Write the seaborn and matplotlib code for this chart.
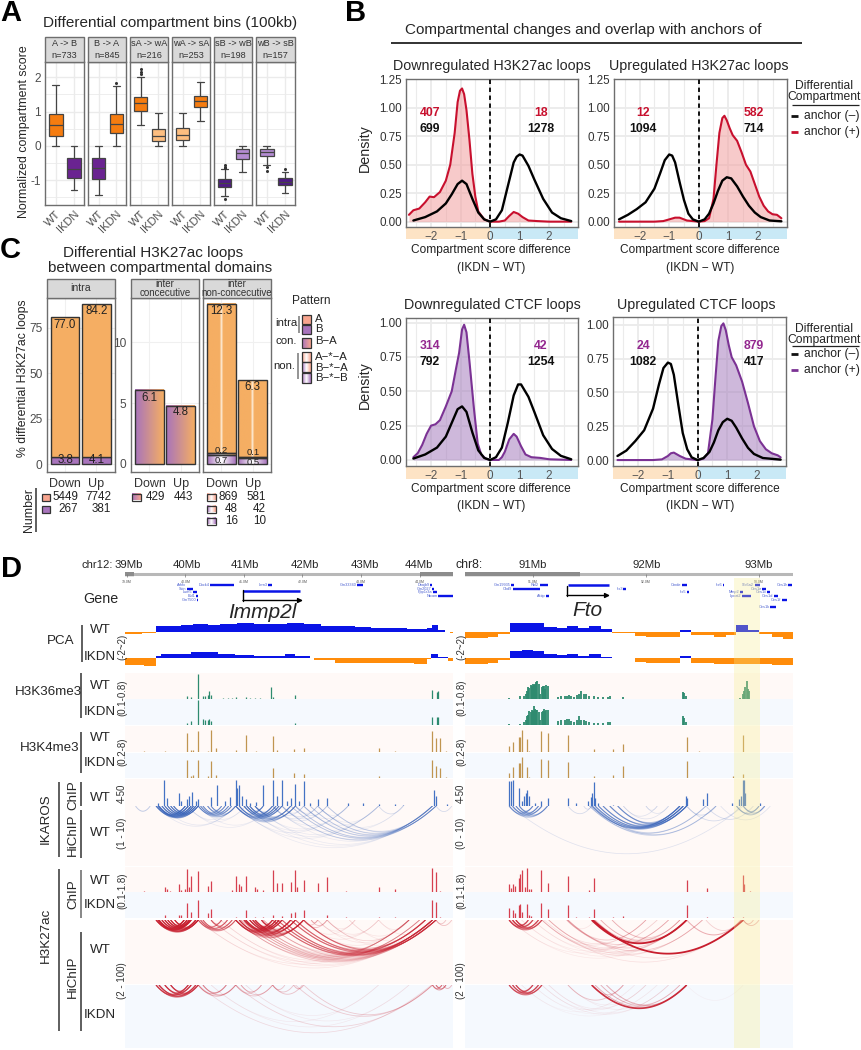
import numpy as np
import pandas as pd
import seaborn as sns
import matplotlib.pyplot as plt
from matplotlib.collections import LineCollection
from matplotlib.colors import LinearSegmentedColormap
from matplotlib.patches import Rectangle

# ---- panel A: box summaries (min, q1, median, q3, max)
box_titles = ["A -> B\nn=733", "B -> A\nn=845", "sA -> wA\nn=216", "wA -> sA\nn=253", "sB -> wB\nn=198", "wB -> sB\nn=157"]
genotypes = ["WT", "IKDN"]
box_wt = [[0, .30, .60, .92, 1.77], [-1.42, -.95, -.65, -.35, 0], [.60, 1.02, 1.24, 1.43, 2.0],
          [0, .16, .33, .52, .97], [-1.45, -1.20, -1.08, -.97, -.68], [-.55, -.28, -.18, -.08, 0]]
box_ikdn = [[-1.27, -.92, -.68, -.36, 0], [0, .38, .63, .92, 1.75], [0, .13, .28, .50, .97],
            [.73, 1.12, 1.32, 1.46, 1.86], [-.75, -.37, -.20, -.08, 0], [-1.37, -1.13, -1.05, -.94, -.75]]
fliers_wt = [[], [], [2.1, 2.15, 2.25], [], [-.55, -.6, -.65, -1.55], [-.62, -.72]]
fliers_ikdn = [[], [1.84], [], [], [], [-.66]]
box_cols_wt = ["#F57C10", "#6A2391", "#F57C10", "#FDBE80", "#4F1A85", "#B48CD2"]
box_cols_ikdn = ["#6A2391", "#F57C10", "#FDBE80", "#F57C10", "#B48CD2", "#4F1A85"]

# ---- panel B: density curves
d1_red_x = [-2.75, -2.6, -2.4, -2.2, -2.05, -1.9, -1.7, -1.5, -1.35, -1.2, -1.1, -1.02, -.95, -.88, -.8, -.7, -.6, -.5, -.4, -.2, 0, .3, .5, .65, .8, .95, 1.1, 1.3, 1.6, 2.0, 2.75]
d1_red_y = [.06, .10, .115, .17, .22, .215, .26, .36, .50, .78, 1.05, 1.15, 1.17, 1.12, .98, .72, .42, .22, .09, .02, 0, 0, .01, .05, .085, .07, .04, .01, .005, 0, 0]
d1_blk_x = [-2.6, -2.2, -1.8, -1.5, -1.3, -1.1, -.95, -.8, -.6, -.4, -.2, 0, .2, .4, .6, .8, .9, 1.0, 1.1, 1.3, 1.5, 1.8, 2.1, 2.4, 2.75]
d1_blk_y = [.01, .04, .09, .16, .24, .33, .36, .33, .20, .08, .02, 0, .02, .10, .31, .52, .57, .59, .58, .49, .37, .20, .08, .03, .005]
d2_red_x = [-2.7, -1.5, -1.2, -1.0, -.8, -.65, -.4, 0, .2, .35, .5, .6, .7, .8, .87, .95, 1.05, 1.15, 1.3, 1.45, 1.6, 1.75, 1.9, 2.05, 2.2, 2.35, 2.5, 2.65, 2.8]
d2_red_y = [0, 0, .005, .02, .035, .035, .01, 0, .005, .03, .20, .50, .78, .91, .93, .89, .82, .76, .71, .61, .50, .44, .33, .22, .14, .09, .065, .06, .03]
d2_blk_x = [-2.7, -2.4, -2.1, -1.8, -1.5, -1.3, -1.15, -1.0, -.9, -.8, -.65, -.5, -.35, -.2, 0, .2, .35, .5, .65, .8, .95, 1.1, 1.3, 1.5, 1.7, 1.9, 2.1, 2.4, 2.8]
d2_blk_y = [.02, .06, .11, .17, .29, .43, .54, .59, .58, .52, .35, .19, .07, .02, 0, .02, .07, .16, .27, .36, .39, .38, .31, .22, .14, .08, .04, .01, .003]
d3_pur_x = [-2.6, -2.45, -2.3, -2.15, -2.0, -1.85, -1.7, -1.5, -1.3, -1.15, -1.05, -.95, -.88, -.8, -.7, -.55, -.42, -.3, -.15, 0, .3, .4, .5, .65, .8, .9, 1.05, 1.2, 1.4, 1.7, 2.0, 2.75]
d3_pur_y = [.02, .05, .11, .19, .25, .26, .29, .39, .50, .67, .78, .95, .985, .93, .72, .38, .12, .04, .01, 0, 0, .02, .06, .15, .19, .17, .10, .04, .02, .015, .005, 0]
d3_blk_x = [-2.6, -2.2, -1.8, -1.5, -1.3, -1.1, -.95, -.8, -.6, -.4, -.2, 0, .2, .4, .6, .8, .95, 1.05, 1.3, 1.5, 1.8, 2.1, 2.4, 2.75]
d3_blk_y = [.01, .04, .09, .17, .27, .37, .39, .35, .20, .07, .015, 0, .02, .09, .27, .47, .55, .55, .46, .35, .18, .08, .03, .005]
d4_pur_x = [-2.7, -1.5, -1.2, -1.0, -.9, -.8, -.6, -.4, 0, .2, .35, .5, .6, .7, .8, .87, .95, 1.05, 1.15, 1.3, 1.5, 1.7, 1.9, 2.1, 2.3, 2.5, 2.7, 2.8]
d4_pur_y = [0, 0, .005, .03, .05, .055, .03, .01, 0, .01, .05, .30, .60, .88, .99, 1.01, .96, .85, .76, .70, .58, .42, .25, .14, .08, .05, .035, .02]
d4_blk_x = [-2.7, -2.4, -2.1, -1.8, -1.5, -1.3, -1.15, -1.0, -.9, -.8, -.65, -.5, -.35, -.2, 0, .2, .4, .55, .7, .85, 1.0, 1.15, 1.3, 1.5, 1.7, 1.9, 2.2, 2.8]
d4_blk_y = [.03, .07, .14, .22, .38, .56, .68, .72, .71, .63, .41, .20, .08, .02, 0, .015, .06, .13, .22, .28, .305, .29, .24, .16, .09, .045, .015, .003]

# ---- panel C: stacked percentages
bar_cats = ["Down", "Up"]
intra_b = [3.8, 4.1]
intra_a = [77.0, 84.2]
con_ba = [6.1, 4.8]
non_bb = [.7, .5]
non_ba = [.2, .1]
non_aa = [12.3, 6.3]
numbers_intra = [["5449", "7742"], ["267", "381"]]
numbers_con = [["429", "443"]]
numbers_non = [["869", "581"], ["48", "42"], ["16", "10"]]

# ---- panel D: compartment PCA (bin edges in Mb, score per bin)
pca_l_wt_e = [38.97, 39.26, 39.50, 39.70, 39.93, 40.13, 40.38, 40.60, 40.89, 41.18, 41.40, 41.74, 42.03, 42.32, 42.60, 42.89, 43.17, 43.55, 43.78, 44.12, 44.22, 44.32, 44.43, 44.52, 44.57]
pca_l_wt_v = [-.45, -.3, 1.3, 1.4, 1.5, 1.7, 1.6, 1.7, 1.9, 1.8, 1.7, 1.9, 1.7, 1.4, 1.3, 1.1, .9, .8, .7, .8, 1.5, .5, -.05, -.3, -.3]
pca_l_ko_e = [38.97, 39.3, 39.5, 39.59, 39.82, 40.10, 40.56, 40.85, 41.18, 41.70, 41.88, 42.13, 42.2, 42.55, 43.12, 43.9, 44.12, 44.2, 44.32, 44.49, 44.57]
pca_l_ko_v = [-1.5, -1.7, .5, .8, 1.0, 1.25, .85, .6, .45, .9, .5, -.05, -.5, -1.1, -1.2, -1.3, -.3, .9, .25, -.7, -.7]
pca_r_e = [90.40, 90.605, 90.69, 90.80, 90.90, 91.0, 91.10, 91.21, 91.30, 91.40, 91.50, 91.60, 91.70, 91.90, 92.0, 92.30, 92.40, 92.60, 92.705, 92.80, 92.90, 93.0, 93.11, 93.21, 93.30]
pca_r_wt_v = [-1.3, -1.0, -.4, 1.9, 2.1, 1.9, 1.2, .9, 1.3, .9, 1.3, .6, -.3, -.8, -1.0, .5, -.6, -1.0, -.6, 1.5, .4, -.5, -1.1, -1.6, -1.6]
pca_r_ko_v = [-1.3, -1.0, -.4, 1.6, 1.8, 1.6, 1.0, .7, .9, .5, .8, .3, -.1, -.8, -1.1, .35, -1.2, -1.4, -1.3, -1.3, -1.3, -1.3, -1.5, -1.6, -1.6]

# peak positions (Mb) and relative heights
k36_l_pos = [40.03, 40.10, 40.22, 40.31, 40.34, 40.38, 40.41, 40.43, 40.64, 40.73, 40.79, 40.87, 41.04, 41.10, 41.19, 41.27, 41.46, 41.50, 41.87, 44.22, 44.29, 44.32]
k36_l_wt = [.1, .07, 1.0, .1, .12, .15, .3, .15, .03, .03, .04, .06, .05, .03, .03, .03, .45, .05, .15, .35, .25, .3]
k36_l_ko = [.06, .15, 1.0, .25, .2, .2, .25, .15, 0, 0, 0, 0, 0, 0, 0, 0, 0, 0, .08, .3, .3, .3]
k36_r_pos = [90.79, 90.885, 90.92, 90.94, 90.95, 90.96, 90.97, 90.98, 90.99, 91.0, 91.01, 91.02, 91.03, 91.04, 91.05, 91.06, 91.08, 91.09, 91.10, 91.11, 91.12, 91.13,
             91.22, 91.25, 91.28, 91.30, 91.32, 91.34, 91.36, 91.39, 91.41, 91.43, 91.45, 91.47, 91.50, 91.54, 91.58, 91.62, 91.66, 91.68, 91.80, 92.33, 92.34, 92.35,
             92.83, 92.86, 92.87, 92.88, 92.89, 92.90, 92.91]
k36_r_wt = [.04, .1, .12, .2, .3, .45, .42, .55, .5, .6, .55, .58, .68, .72, .6, .2, .45, .5, .52, .4, .55, .5,
            .07, .1, .1, .12, .14, .12, .08, .15, .2, .3, .2, .18, .12, .1, .08, .06, .07, .12, .05, .28, .22, .1,
            .04, .2, .3, .45, .7, .4, .3]
k36_r_ko = [.02, .05, .1, .2, .35, .4, .55, .5, .6, .55, .75, .65, .6, .6, .5, .2, .5, .55, .65, .55, .6, .6,
            .15, .2, .18, .25, .22, .15, .1, .2, .35, .2, .18, .15, .1, .08, .07, .06, .1, .12, 0, .35, .28, .1,
            0, 0, 0, 0, 0, 0, 0]
k4_l_pos = [39.30, 39.65, 40.03, 40.10, 40.13, 40.22, 40.39, 40.44, 40.53, 40.87, 41.03, 41.21, 41.49, 41.57, 41.86, 42.02, 43.30, 43.58, 44.22, 44.28, 44.34, 44.45]
k4_l_wt = [.02, .03, .75, .08, .08, .85, .05, .88, .15, .07, .68, .03, .65, .07, .1, .15, .14, .05, .85, .55, .55, .03]
k4_l_ko = [0, 0, .75, .1, .12, .75, .1, .7, .12, 0, 0, 0, .42, 0, .2, .18, .08, 0, .75, .5, .4, .03]
k4_r_pos = [90.79, 90.825, 90.875, 90.89, 90.905, 90.95, 90.97, 91.07, 91.13, 91.31, 91.54, 91.71, 91.80, 92.36, 92.47, 92.77, 92.86]
k4_r_wt = [.22, .4, .6, .6, .88, .5, .05, .85, .75, .68, .1, .12, .3, .6, .02, 0, .68]
k4_r_ko = [.2, .45, .6, .6, .85, .45, .05, .8, .75, .65, .1, .12, .5, .7, 0, .1, .15]
ik_l_pos = [39.53, 39.63, 39.69, 39.89, 39.93, 40.03, 40.07, 40.11, 40.18, 40.22, 40.44, 40.54, 40.68, 40.77, 40.86, 40.89, 40.92, 40.96, 41.03, 41.10, 41.21, 41.33, 41.49, 41.57, 41.65, 41.74, 41.80, 41.88, 41.94, 42.02, 42.13, 42.26, 42.42, 42.78, 43.04, 43.30, 43.58, 43.72, 44.25, 44.28, 44.46]
ik_l_wt = [.1, 1.0, .3, .5, .2, .25, .4, .55, .2, .25, .35, .8, .2, .35, 1.0, .7, .8, .4, .25, .1, .15, .8, 1.0, .4, 1.0, .2, .3, .85, .2, .95, .1, .25, .3, .1, .1, .08, .08, .05, .6, .4, .08]
ik_r_pos = [90.79, 90.805, 90.82, 90.875, 90.90, 90.92, 90.94, 90.95, 90.97, 91.02, 91.07, 91.13, 91.31, 91.38, 91.49, 91.51, 91.52, 91.54, 91.55, 91.58, 91.71, 92.355, 92.36, 92.505, 92.54, 92.765, 92.82, 92.84, 92.86, 92.87, 92.88, 93.01]
ik_r_wt = [.95, .95, 1.0, .7, .2, .4, .5, .6, .4, .1, .2, .3, .3, .1, .2, .35, .5, .9, .3, .1, .03, .4, .3, .25, .5, .1, .25, .4, 1.0, 1.0, .5, .1]
ac_l_pos = [39.30, 39.65, 39.68, 39.73, 39.89, 39.93, 39.99, 40.03, 40.07, 40.10, 40.22, 40.39, 40.44, 40.80, 40.86, 40.91, 40.95, 41.03, 41.19, 41.23, 41.33, 41.49, 41.57, 41.65, 41.80, 41.88, 41.91, 42.02, 42.26, 42.42, 42.75, 43.30, 43.58, 44.22, 44.28, 44.35]
ac_l_wt = [.03, .18, .1, .04, .3, .06, .1, .95, .2, .65, .85, .25, .45, .05, .65, .3, .25, .65, .2, .1, .05, .9, .35, .35, .4, .9, .2, .5, .35, .6, .03, .18, .1, 1.0, .8, .03]
ac_l_ko = [0, .1, 0, 0, .1, .1, 0, .6, 0, .25, .7, .2, .35, 0, .05, 0, 0, .3, .05, 0, .05, .1, 0, .08, .2, .25, 0, .3, 0, .1, .03, .03, .03, .7, .65, .05]
ac_r_pos = [90.79, 90.805, 90.825, 90.84, 90.875, 90.89, 90.905, 90.93, 90.95, 90.97, 90.98, 91.07, 91.13, 91.31, 91.38, 91.50, 91.54, 91.71, 91.80, 92.36, 92.54, 92.77, 92.86, 92.87, 92.92]
ac_r_wt = [.3, .15, .3, .25, .55, .75, .9, .2, 1.0, .1, .1, .9, .35, .65, 0, .08, .55, 0, 0, .47, .15, 0, .7, .3, .03]
ac_r_ko = [.4, 0, .3, .2, .5, .55, .25, 0, .55, .1, .08, .6, .35, .5, .03, .05, .35, .05, .08, .5, .03, .05, .05, 0, 0]

# loops: left anchors (Mb), right anchors (Mb), loop strength
ik_l_loops = [([39.50, 39.53, 39.55, 39.6, 39.65, 39.7, 39.75, 39.8], [40.0, 40.05, 40.1, 40.14, 40.18, 40.22], .28),
              ([40.22, 40.26, 40.3, 40.38, 40.44], [40.62, 40.68, 40.74, 40.79, 40.86], .24),
              ([40.86, 40.92, 41.0, 41.05, 41.1, 41.19], [41.33, 41.49, 41.55, 41.6, 41.65, 41.8, 41.88], .26),
              ([41.49, 41.65, 41.88], [42.02, 42.26, 42.42], .15),
              ([40.03, 40.22], [40.86, 41.03, 41.49], .1), ([39.50, 39.6], [40.86], .12),
              ([40.86, 41.03, 41.19, 41.49], [42.78, 43.3, 44.22], .1),
              ([41.65, 41.8, 41.88, 42.02, 42.13, 42.26, 42.42], [44.22, 44.28], .2),
              ([42.02, 42.26], [42.78, 43.3, 43.72], .1), ([39.15], [39.4], .3), ([43.3], [43.72], .2), ([44.28], [44.55], .2)]
ik_r_loops = [([90.79, 90.82, 90.85, 90.88], [91.0, 91.05, 91.08, 91.13], .3), ([90.8], [92.86], .15),
              ([91.52, 91.55, 91.58, 91.62, 91.68, 91.75], [92.3, 92.33, 92.36], .35), ([91.31, 91.45], [91.52], .2),
              ([91.5, 91.53], [92.53, 92.62], .25), ([92.36], [92.62, 92.84], .2), ([92.53], [92.95], .2),
              ([92.8, 92.86], [93.0, 93.05], .4), ([92.66], [93.1], .15), ([91.8, 92.0], [92.1, 92.2], .15)]
ac_l_wt_loops = [([39.50, 39.53, 39.55, 39.6, 39.65, 39.7, 39.75, 39.82], [39.98, 40.03, 40.07, 40.1, 40.18, 40.22], .4),
                 ([40.22, 40.26, 40.3, 40.44], [40.62, 40.72, 40.8, 40.86], .3),
                 ([40.86, 40.92, 41.0, 41.03, 41.1, 41.15, 41.19, 41.3], [41.49, 41.55, 41.6, 41.65, 41.8, 41.88, 42.02], .34),
                 ([42.02, 42.15], [42.26, 42.42], .25), ([40.22, 40.44, 40.6], [43.82, 44.22], .1),
                 ([40.86, 40.95, 41.03, 41.1, 41.19, 41.33], [43.82, 44.0, 44.22, 44.28], .14),
                 ([41.49, 41.57, 41.65, 41.8, 41.88, 42.02], [44.1, 44.22, 44.28], .34),
                 ([42.02, 42.26, 42.42], [42.9, 43.3, 43.82], .1), ([42.42, 42.8, 43.3], [43.82, 44.22], .1), ([44.28], [44.45, 44.55], .25)]
ac_l_ko_loops = [([39.5, 39.55, 39.65, 39.75], [40.05, 40.1, 40.18, 40.22], .45), ([40.22, 40.3], [40.7, 40.86], .35),
                 ([40.86, 40.95], [41.3, 41.49], .25), ([41.49], [41.7, 41.85, 42.0], .25), ([41.85], [42.02], .3),
                 ([40.22], [44.2], .15), ([40.86], [44.22], .18), ([41.88, 42.02], [44.22], .22),
                 ([40.44, 41.03], [43.3, 43.82], .08), ([44.22, 44.28], [44.38, 44.45], .4), ([44.4], [44.55], .3)]
ac_r_wt_loops = [([90.79, 90.82, 90.85], [90.96, 91.0, 91.05, 91.08], .45), ([91.52], [92.36], 1.0), ([91.53], [92.86], 1.0),
                 ([91.55, 91.6, 91.7], [92.36, 92.3], .2), ([91.08, 91.14, 91.3, 91.31], [92.0, 92.2, 92.36, 92.5], .13),
                 ([90.8, 90.9, 91.0], [92.1, 92.36], .08), ([92.36], [92.84], .35), ([92.53], [92.84], .2), ([91.3], [91.55], .1),
                 ([92.86], [92.95, 93.0], .3), ([91.1, 91.31], [92.86], .12)]
ac_r_ko_loops = [([90.79, 90.82, 90.85], [91.0, 91.05, 91.08], .45), ([91.52], [92.36], .9), ([91.55, 91.6], [92.3, 92.36], .2),
                 ([91.31, 91.52], [91.8], .25), ([91.65], [92.36], .35), ([91.08, 91.14, 91.31], [92.0, 92.2], .08),
                 ([90.9, 91.0], [91.9, 92.1], .05), ([92.36], [92.86], .05)]

# genes: name, start, end, row
genes_l = [("Arhfx", 40.02, 40.03, 0), ("Scin", 40.03, 40.13, 1), ("Lsm5", 40.13, 40.20, 2), ("Bid1", 40.18, 40.21, 3), ("Gm7500", 40.20, 40.22, 4),
           ("Dock4", 40.42, 40.83, 0), ("Lrrn3", 41.41, 41.48, 0), ("Gm33340", 42.93, 43.03, 0), ("Dnajb9", 44.18, 44.21, 0), ("Gm2027", 44.21, 44.24, 1),
           ("Ppp1r3a", 44.23, 44.30, 2), ("Nrcam", 44.32, 44.57, 3)]
genes_r = [("Gm19935", 90.81, 90.83, 0), ("Rbl2", 91.06, 91.13, 0), ("Chd9", 90.82, 91.06, 1), ("Aktip", 91.12, 91.14, 3), ("Irx3", 91.80, 91.82, 1),
           ("Crnde", 92.32, 92.36, 0), ("Irx5", 92.36, 92.38, 2), ("Irx6", 92.68, 92.69, 0), ("Mmp2", 92.83, 92.86, 2), ("Lpcat2", 92.85, 92.93, 3),
           ("Slc6a2", 92.96, 93.01, 0), ("Ces1e", 93.03, 93.06, 1), ("Ces1c", 93.07, 93.10, 2), ("Ces1d", 93.13, 93.17, 3), ("Ces1f", 93.20, 93.25, 4),
           ("Ces1h", 93.26, 93.29, 0), ("Ces1k", 93.10, 93.15, 6)]
immp2l_span = (40.98, 41.96)
fto_span = (91.31, 91.67)

W, H = 861, 1050
sns.set_theme(style="whitegrid")
plt.rcParams["font.family"] = ["Liberation Sans", "DejaVu Sans"]
plt.rcParams["axes.unicode_minus"] = False
fig = plt.figure(figsize=(W / 100, H / 100), dpi=100, facecolor="white")

ORANGE, PURPLE = "#F5AE63", "#A874BC"
SALMON = "#F8A58F"
GRID = "#ebebeb"
FRAME = "#6e6e6e"
TICK = "#4d4d4d"


def px_axes(x0, y0, x1, y1, **kw):
    return fig.add_axes([x0 / W, 1 - y1 / H, (x1 - x0) / W, (y1 - y0) / H], **kw)


ov = px_axes(0, 0, W, H, zorder=20)
ov.set_xlim(0, W)
ov.set_ylim(H, 0)
ov.axis("off")
ov.patch.set_alpha(0)


def label(x, y, s, size=9, ha="center", **kw):
    ov.text(x, y, s, fontsize=size, ha=ha, va="center", **kw)


def vrule(x, y0, y1, color="#333333", lw=1.1):
    ov.plot([x, x], [y0, y1], color=color, lw=lw, solid_capstyle="butt")


def hrule(x0, x1, y, color="#222222", lw=1.1):
    ov.plot([x0, x1], [y, y], color=color, lw=lw, solid_capstyle="butt")


def grad(*cols):
    return LinearSegmentedColormap.from_list("g", list(cols))


def swatch(x0, y0, x1, y1, fill):
    if isinstance(fill, str):
        ov.add_patch(Rectangle((x0, y0), x1 - x0, y1 - y0, fc=fill, ec="#333333", lw=.9))
    else:
        ov.imshow(np.linspace(0, 1, 32)[None, :], cmap=fill, extent=(x0, x1, y1, y0), aspect="auto", zorder=2)
        ov.add_patch(Rectangle((x0, y0), x1 - x0, y1 - y0, fc="none", ec="#333333", lw=.9, zorder=3))
    ov.set_xlim(0, W)
    ov.set_ylim(H, 0)


def style_frame(ax):
    for s in ax.spines.values():
        s.set_color(FRAME)
        s.set_linewidth(1.0)
        s.set_visible(True)


# ---------------- panel A
strip_x = [(45, 84), (88, 126), (130, 168), (172, 210), (214, 252), (256, 295)]
for i, (x0, x1) in enumerate(strip_x):
    ax = px_axes(x0, 62, x1, 205)
    rows = [{"geno": "WT", "score": v} for v in box_wt[i]] + [{"geno": "IKDN", "score": v} for v in box_ikdn[i]]
    df = pd.DataFrame(rows)
    sns.boxplot(data=df, x="geno", y="score", hue="geno", order=genotypes, hue_order=genotypes,
                palette=[box_cols_wt[i], box_cols_ikdn[i]], whis=(0, 100), width=.76, linewidth=.9, saturation=1,
                linecolor="#444444", legend=False, ax=ax, zorder=3)
    fl = pd.DataFrame([{"geno": "WT", "score": v} for v in fliers_wt[i]] + [{"geno": "IKDN", "score": v} for v in fliers_ikdn[i]],
                      columns=["geno", "score"])
    if len(fl):
        sns.stripplot(data=fl, x="geno", y="score", order=genotypes, jitter=False, color="#333333", size=2.2, ax=ax, zorder=4)
    ax.set_xlim(-.6, 1.55)
    ax.set_ylim(-1.72, 2.445)
    ax.set_xlabel("")
    ax.set_ylabel("")
    ax.set_yticks([-1, 0, 1, 2])
    ax.set_yticks([-1.5, -.5, .5, 1.5], minor=True)
    ax.set_yticklabels(["-1", "0", "1", "2"] if i == 0 else [])
    ax.grid(True, which="major", color=GRID, lw=1.0)
    ax.grid(True, which="minor", axis="y", color=GRID, lw=.6)
    ax.set_axisbelow(True)
    ax.tick_params(axis="y", which="major", labelsize=8.5, labelcolor=TICK, length=2 if i == 0 else 0, color=TICK, pad=1)
    ax.tick_params(axis="y", which="minor", length=0)
    ax.tick_params(axis="x", length=2, color=TICK, pad=1)
    ax.set_xticks([0, 1])
    ax.set_xticklabels(genotypes, rotation=45, ha="right", rotation_mode="anchor", fontsize=8, color=TICK)
    style_frame(ax)
    ov.add_patch(Rectangle((x0, 37), x1 - x0, 24.5, fc="#d9d9d9", ec=FRAME, lw=1.0))
    a, b = box_titles[i].split("\n")
    label((x0 + x1) / 2, 44, a, 6.6, color="#333333")
    label((x0 + x1) / 2, 56, b, 6.6, color="#333333")
label(170, 23, "Differential compartment bins (100kb)", 11)
label(24, 132, "Normalized compartment score", 8.9, rotation=90)

# ---------------- panel B
ORANGE_BAND, BLUE_BAND = "#FDE3C5", "#C9E9F6"
RED, VIOLET = "#C8102E", "#7B3294"


def density_panel(box, band, xlim, ylim, pos_x, pos_y, neg_x, neg_y, col, fill, yticks):
    bnd = px_axes(box[0], box[3], box[2], band)
    bnd.set_xlim(xlim)
    bnd.axis("off")
    bnd.axvspan(xlim[0], 0, color=ORANGE_BAND, lw=0)
    bnd.axvspan(0, xlim[1], color=BLUE_BAND, lw=0)
    ax = px_axes(*box, zorder=2)
    ax.fill_between(pos_x, pos_y, color=fill, alpha=.55, lw=0, zorder=2)
    sns.lineplot(x=pos_x, y=pos_y, color=col, lw=1.5, errorbar=None, ax=ax, zorder=3)
    sns.lineplot(x=neg_x, y=neg_y, color="black", lw=1.7, errorbar=None, ax=ax, zorder=4)
    ax.axvline(0, color="black", ls=(0, (2.4, 2)), lw=1.3, zorder=5)
    ax.set_xlim(xlim)
    ax.set_ylim(ylim)
    ax.set_xticks([-2, -1, 0, 1, 2])
    ax.set_xticklabels(["\u22122", "\u22121", "0", "1", "2"])
    ax.set_xticks([-2.5, -1.5, -.5, .5, 1.5, 2.5], minor=True)
    ax.set_yticks(yticks)
    ax.set_yticklabels(["%.2f" % v for v in yticks])
    ax.grid(True, which="major", color=GRID, lw=1.3)
    ax.grid(True, which="minor", axis="x", color=GRID, lw=.8)
    ax.set_axisbelow(True)
    ax.tick_params(axis="y", labelsize=8.4, labelcolor="#333333", length=2, color=TICK, pad=1)
    ax.tick_params(axis="x", labelsize=8.4, labelcolor="#555555", length=0, pad=3)
    ax.tick_params(axis="x", which="minor", length=0)
    style_frame(ax)


yt1 = [0, .25, .5, .75, 1.0, 1.25]
yt2 = [0, .25, .5, .75, 1.0]
density_panel((406, 79, 578, 227), 239, (-2.85, 2.98), (-.047, 1.253), d1_red_x, d1_red_y, d1_blk_x, d1_blk_y, RED, "#F2A0A0", yt1)
density_panel((614, 79, 787, 227), 239, (-2.87, 2.99), (-.047, 1.253), d2_red_x, d2_red_y, d2_blk_x, d2_blk_y, RED, "#F2A0A0", yt1)
density_panel((406, 318, 578, 466), 479, (-2.85, 2.98), (-.044, 1.034), d3_pur_x, d3_pur_y, d3_blk_x, d3_blk_y, VIOLET, "#A67FBE", yt2)
density_panel((613, 317, 786, 466), 479, (-2.85, 2.98), (-.044, 1.057), d4_pur_x, d4_pur_y, d4_blk_x, d4_blk_y, VIOLET, "#A67FBE", yt2)

label(583, 30, "Compartmental changes and overlap with anchors of", 11)
hrule(391, 802, 43, lw=1.3)
for cx, s in [(492, "Downregulated H3K27ac loops"), (699, "Upregulated H3K27ac loops")]:
    label(cx, 66, s, 10.3)
for cx, s in [(492, "Downregulated CTCF loops"), (696, "Upregulated CTCF loops")]:
    label(cx, 305, s, 10.3)
for cx in (491, 700):
    label(cx, 250, "Compartment score difference", 8.6, color="#222222")
    label(cx, 268, "(IKDN \u2212 WT)", 8.6, color="#222222")
    label(cx, 489, "Compartment score difference", 8.6, color="#222222")
    label(cx, 506, "(IKDN \u2212 WT)", 8.6, color="#222222")
label(365, 148, "Density", 10.3, rotation=90)
label(365, 385, "Density", 10.3, rotation=90)
pan_counts = [(430, 541, ["407", "18"], ["699", "1278"], 113, 129, RED),
              (643, 754, ["12", "582"], ["1094", "714"], 113, 129, RED),
              (430, 541, ["314", "42"], ["792", "1254"], 346, 362, "#93278F"),
              (643, 754, ["24", "879"], ["1082", "417"], 346, 362, "#93278F")]
for xa, xb, top, bottom, y0, y1, c in pan_counts:
    label(xa, y0, top[0], 8.8, color=c, fontweight="bold")
    label(xb, y0, top[1], 8.8, color=c, fontweight="bold")
    label(xa, y1, bottom[0], 8.8, color="#111111", fontweight="bold")
    label(xb, y1, bottom[1], 8.8, color="#111111", fontweight="bold")
for y0, c in [(86, RED), (329, VIOLET)]:
    label(824, y0, "Differential", 8.7)
    label(824, y0 + 11, "Compartment", 8.7)
    hrule(792, 859, y0 + 19 if y0 == 86 else y0 + 17, color="#222222", lw=.9)
    yb = y0 + 30 if y0 == 86 else y0 + 25
    hrule(791, 798, yb, color="#111111", lw=2)
    hrule(791, 798, yb + 16, color=c, lw=2)
    label(804, yb, "anchor (\u2013)", 8.7, ha="left", color="#222222")
    label(804, yb + 16, "anchor (+)", 8.7, ha="left", color="#222222")

# ---------------- panel C
ax = px_axes(46.7, 298, 114.7, 472)
sns.barplot(x=bar_cats, y=intra_b, color=PURPLE, edgecolor="#333333", linewidth=1.0, width=.92, saturation=1, ax=ax, zorder=3)
sns.barplot(x=bar_cats, y=intra_a, bottom=intra_b, color=ORANGE, edgecolor="#333333", linewidth=1.0, width=.92, saturation=1, ax=ax, zorder=3)
ax.set_xlim(-.585, 1.585)
ax.set_ylim(-4.4, 91.5)
ax.set_yticks([0, 25, 50, 75])
for x, y, s in zip([0, 1, 0, 1], [76.5, 84.1, 2, 2], ["77.0", "84.2", "3.8", "4.1"]):
    ax.text(x, y, s, ha="center", va="center", fontsize=8.3, color="#222222", zorder=5)
panel_c = [ax]

ax = px_axes(130.7, 298, 199.3, 472)
sns.barplot(x=bar_cats, y=con_ba, color="white", edgecolor="#333333", linewidth=1.0, width=.92, fill=False, ax=ax, zorder=3)
ax.set_xlim(-.6, 1.59)
ax.set_ylim(-.66, 13.66)
ax.set_yticks([0, 5, 10])
for p in ax.patches:
    bb = p.get_bbox()
    ax.imshow(np.linspace(0, 1, 64)[None, :], cmap=grad(PURPLE, ORANGE), extent=(bb.x0, bb.x1, bb.y0, bb.y1), aspect="auto", zorder=2)
ax.set_xlim(-.6, 1.59)
ax.set_ylim(-.66, 13.66)
for x, y, s in zip([0, 1], [5.46, 4.26], ["6.1", "4.8"]):
    ax.text(x, y, s, ha="center", va="center", fontsize=8.3, color="#222222", zorder=5)
panel_c.append(ax)

ax = px_axes(202.7, 298, 271.3, 472)
bottom2 = [a + b for a, b in zip(non_bb, non_ba)]
sns.barplot(x=bar_cats, y=non_bb, color="white", edgecolor="#333333", linewidth=1.0, width=.92, fill=False, ax=ax, zorder=3)
sns.barplot(x=bar_cats, y=non_ba, bottom=non_bb, color="white", edgecolor="#333333", linewidth=1.0, width=.92, fill=False, ax=ax, zorder=3)
sns.barplot(x=bar_cats, y=non_aa, bottom=bottom2, color="white", edgecolor="#333333", linewidth=1.0, width=.92, fill=False, ax=ax, zorder=3)
stripe_o = LinearSegmentedColormap.from_list("o", [(0, ORANGE), (.44, ORANGE), (.5, "#FFF4E6"), (.56, ORANGE), (1, ORANGE)])
stripe_p = LinearSegmentedColormap.from_list("p", [(0, PURPLE), (.5, "white"), (1, PURPLE)])
seg_maps = [stripe_p, stripe_p, grad(PURPLE, "white", ORANGE), grad(PURPLE, "white", ORANGE), stripe_o, stripe_o]
for p, cm in zip(ax.patches, seg_maps):
    bb = p.get_bbox()
    ax.imshow(np.linspace(0, 1, 64)[None, :], cmap=cm, extent=(bb.x0, bb.x1, bb.y0, bb.y1), aspect="auto", zorder=2)
ax.set_xlim(-.6, 1.59)
ax.set_ylim(-.66, 13.66)
ax.set_yticks([0, 5, 10])
ax.set_yticklabels([])
for x, y, s, fs in zip([0, 1, 0, 0, 1, 1], [12.57, 6.34, 1.14, .3, .96, .14], ["12.3", "6.3", "0.2", "0.7", "0.1", "0.5"], [8.3, 8.3, 6.8, 6.8, 6.8, 6.8]):
    ax.text(x, y, s, ha="center", va="center", fontsize=fs, color="#222222", zorder=5)
panel_c.append(ax)

for i, ax in enumerate(panel_c):
    ax.grid(True, color="#f0f0f0", lw=.8)
    ax.set_axisbelow(True)
    ax.tick_params(axis="y", labelsize=8.6, labelcolor=TICK, length=2 if i < 2 else 0, color=TICK, pad=1)
    ax.tick_params(axis="x", labelsize=9, labelcolor="#333333", length=2, color=TICK, pad=2)
    style_frame(ax)
for (x0, x1), lines in zip([(46.7, 114.7), (130.7, 199.3), (202.7, 271.3)], [["intra"], ["inter", "concecutive"], ["inter", "non-concecutive"]]):
    ov.add_patch(Rectangle((x0, 278.5), x1 - x0, 19.5, fc="#d9d9d9", ec=FRAME, lw=1.0))
    if len(lines) == 1:
        label((x0 + x1) / 2, 288, lines[0], 7.6, color="#333333")
    else:
        label((x0 + x1) / 2, 284, lines[0], 7.0, color="#333333")
        label((x0 + x1) / 2, 293, lines[1], 7.0, color="#333333")
label(153, 253, "Differential H3K27ac loops", 11)
label(160, 268, "between compartmental domains", 11)
label(23, 378, "% differential H3K27ac loops", 8.8, rotation=90, color="#222222")

label(311, 301, "Pattern", 8.6)
leg_rows = [(315, 324, SALMON, "A", 319), (325, 334, PURPLE, "B", 329), (338, 348, grad(PURPLE, SALMON), "B\u2212A", 341),
            (352, 362, grad(SALMON, "white", SALMON), "A\u2212*\u2212A", 357), (362, 372, grad(PURPLE, "white", SALMON), "B\u2212*\u2212A", 368),
            (373, 383, grad(PURPLE, "white", PURPLE), "B\u2212*\u2212B", 378)]
for y0, y1, f, s, yt in leg_rows:
    swatch(302, y0, 311, y1, f)
    label(315, yt, s, 8.2, ha="left", color="#222222")
label(297, 323, "intra", 8.2, ha="right", color="#222222")
label(297, 341, "con.", 8.2, ha="right", color="#222222")
label(295, 366, "non.", 8.2, ha="right", color="#222222")
vrule(298.5, 316, 333, color="#777777")
vrule(297.5, 353, 379, color="#777777")

label(29, 510, "Number", 8.8, rotation=90)
vrule(36, 488, 532, color="#333333")
for y, f, nums in zip([497, 509], [SALMON, PURPLE], numbers_intra):
    swatch(42, y - 3.5, 50, y + 3.5, f)
    label(78, y, nums[0], 8.4, ha="right", color="#222222")
    label(111, y, nums[1], 8.4, ha="right", color="#222222")
swatch(132, 493.5, 141, 500.5, grad(PURPLE, SALMON))
label(165, 497, numbers_con[0][0], 8.4, ha="right", color="#222222")
label(193, 497, numbers_con[0][1], 8.4, ha="right", color="#222222")
for y, f, nums in zip([497, 509, 521], leg_rows[3:], numbers_non):
    swatch(207, y - 3.5, 216, y + 3.5, f[2])
    label(238, y, nums[0], 8.4, ha="right", color="#222222")
    label(266, y, nums[1], 8.4, ha="right", color="#222222")

# ---------------- panel D
XL, XR = (38.97, 44.57), (90.40, 93.30)
COLS = [(125, 453, XL), (465, 793, XR)]
BG_WT, BG_KO = "#FFF9F7", "#F5F9FE"
GREEN, BROWN, BLUE, CRIM = "#2E8B6F", "#C09550", "#4472C4", "#D6404F"


def track(col, y0, y1, bg):
    x0, x1, xlim = COLS[col]
    ax = px_axes(x0, y0, x1, y1)
    ax.set_xlim(xlim)
    ax.axis("off")
    ax.add_patch(Rectangle((xlim[0], 0), xlim[1] - xlim[0], 1, transform=ax.get_xaxis_transform(), fc=bg, lw=0, zorder=0))
    return ax


def peaks(col, y0, y1, bg, pos, vals, color, lw=.9):
    ax = track(col, y0, y1, bg)
    ax.set_ylim(0, 1.03)
    ax.vlines(pos, 0, vals, color=color, lw=lw, zorder=2)
    return ax


def pca(col, y0, y1, edges, vals):
    # 33 px tall band, baseline 15 px from the top, 4.5 px per score unit
    ax = track(col, y0, y1, "white")
    ax.patch.set_alpha(0)
    ax.set_ylim(-18 / 4.5, 15 / 4.5)
    v = np.array(vals)
    ax.fill_between(edges, 0, np.clip(v, 0, None), step="post", color="#0A14E6", lw=0, zorder=2)
    ax.fill_between(edges, 0, np.clip(v, None, 0), step="post", color="#FF8C0A", lw=0, zorder=2)


def arcs(col, y0, y1, bg, groups, color):
    ax = track(col, y0, y1, bg)
    xlim = COLS[col][2]
    ppm = (COLS[col][1] - COLS[col][0]) / (xlim[1] - xlim[0])
    ax.set_ylim(y1 - y0, 0)
    t = np.linspace(-1, 1, 50)
    for lefts, rights, strength in groups:
        segs = []
        for a in lefts:
            for b in rights:
                if b > a:
                    depth = 10 * ((b - a) * ppm / 33) ** .8
                    segs.append(np.column_stack([(a + b) / 2 + (b - a) / 2 * t, depth * (1 - t ** 2)]))
        ax.add_collection(LineCollection(segs, colors=color, linewidths=.4 + .9 * strength, alpha=strength, zorder=2))


def gene_track(col, genes, major, majlab):
    x0, x1, xlim = COLS[col]
    ax = px_axes(x0, 578, x1, 612)
    ax.set_xlim(xlim)
    ax.set_ylim(34, 0)
    ax.axis("off")
    for name, a, b, row in genes:
        y = 7 + row * 3.7
        ax.plot([a, b], [y, y], color="#0A14E6", lw=1.7, solid_capstyle="butt")
        ax.text(a - .01 * (xlim[1] - xlim[0]) / 5.6, y, name, fontsize=2.8, color="#4a5fd0", ha="right", va="center")
    for m, lab in zip(major, majlab):
        ax.text(m, 4, lab, fontsize=2.5, color="#555555", ha="center", va="center")


def ruler(col, dark, major):
    x0, x1, xlim = COLS[col]
    ax = px_axes(x0, 572, x1, 578)
    ax.set_xlim(xlim)
    ax.set_ylim(6, 0)
    ax.axis("off")
    ax.hlines(2, xlim[0], xlim[1], color="#b8b8b8", lw=2.2)
    ax.hlines([2] * len(dark), [d[0] for d in dark], [d[1] for d in dark], color="#8c8c8c", lw=3.2)
    ax.vlines(major, 2, 5, color="#777777", lw=.5)


ruler(0, [(38.97, 39.13), (44.0, 44.57)], [39, 40, 41, 42, 43, 44])
ruler(1, [(90.40, 91.42)], [91, 92, 93])
gene_track(0, genes_l, [39, 40, 41, 42, 43, 44], ["39.0M", "40.0M", "41.0M", "42.0M", "43.0M", "44.0M"])
gene_track(1, genes_r, [91, 92, 93], ["91.0M", "92.0M", "93.0M"])
gx = px_axes(125, 578, 453, 612)
gx.set_xlim(XL)
gx.set_ylim(34, 0)
gx.axis("off")
gx.hlines(12.5, immp2l_span[0], immp2l_span[1], color="#0A14E6", lw=1.8)
gx = px_axes(465, 578, 793, 612)
gx.set_xlim(XR)
gx.set_ylim(34, 0)
gx.axis("off")
gx.hlines(7, fto_span[0], fto_span[1], color="#0A14E6", lw=1.8)

pca(0, 617, 650, pca_l_wt_e, pca_l_wt_v)
pca(0, 643, 676, pca_l_ko_e, pca_l_ko_v)
pca(1, 617, 650, pca_r_e, pca_r_wt_v)
pca(1, 643, 676, pca_r_e, pca_r_ko_v)

peaks(0, 673, 698.5, BG_WT, k36_l_pos, k36_l_wt, GREEN)
peaks(0, 699, 725, BG_KO, k36_l_pos, k36_l_ko, GREEN)
peaks(1, 673, 698.5, BG_WT, k36_r_pos, k36_r_wt, GREEN, lw=1.3)
peaks(1, 699, 725, BG_KO, k36_r_pos, k36_r_ko, GREEN, lw=1.3)
peaks(0, 726, 752, BG_WT, k4_l_pos, k4_l_wt, BROWN)
peaks(0, 753, 778, BG_KO, k4_l_pos, k4_l_ko, BROWN)
peaks(1, 726, 752, BG_WT, k4_r_pos, k4_r_wt, BROWN)
peaks(1, 753, 778, BG_KO, k4_r_pos, k4_r_ko, BROWN)
peaks(0, 779, 806, BG_WT, ik_l_pos, ik_l_wt, BLUE)
peaks(1, 779, 806, BG_WT, ik_r_pos, ik_r_wt, BLUE)
arcs(0, 806, 866, BG_WT, ik_l_loops, "#2F5DB8")
arcs(1, 806, 866, BG_WT, ik_r_loops, "#2F5DB8")
peaks(0, 867, 891.5, BG_WT, ac_l_pos, ac_l_wt, CRIM)
peaks(0, 892, 918, BG_KO, ac_l_pos, ac_l_ko, CRIM)
peaks(1, 867, 891.5, BG_WT, ac_r_pos, ac_r_wt, CRIM)
peaks(1, 892, 918, BG_KO, ac_r_pos, ac_r_ko, CRIM)
arcs(0, 920, 984, BG_WT, ac_l_wt_loops, "#C81E2E")
arcs(0, 985, 1048, BG_KO, ac_l_ko_loops, "#C81E2E")
arcs(1, 920, 984, BG_WT, ac_r_wt_loops, "#C81E2E")
arcs(1, 985, 1048, BG_KO, ac_r_ko_loops, "#C81E2E")

# yellow highlight over the tracks
ov.add_patch(Rectangle((734, 578), 26, 470, fc="#F7EE8C", alpha=.3, lw=0, zorder=1))

# arrows and gene names
ov.annotate("", xy=(303, 600.5), xytext=(243, 600.5), arrowprops=dict(arrowstyle="-|>", color="black", lw=1, shrinkA=0, shrinkB=0, mutation_scale=7))
ov.plot([243, 243], [590, 600.5], color="black", lw=1)
ov.annotate("", xy=(610, 595.5), xytext=(567, 595.5), arrowprops=dict(arrowstyle="-|>", color="black", lw=1, shrinkA=0, shrinkB=0, mutation_scale=7))
ov.plot([567, 567], [586, 595.5], color="black", lw=1)
label(262, 612, "Immp2l", 15, style="italic")
label(587, 610, "Fto", 15, style="italic")

label(82, 565, "chr12:", 8.1, ha="left")
for x, s in zip([129, 187, 245, 305, 365, 419], ["39Mb", "40Mb", "41Mb", "42Mb", "43Mb", "44Mb"]):
    label(x, 565, s, 8.2)
label(456, 565, "chr8:", 8.8, ha="left")
for x, s in zip([533, 647, 759], ["91Mb", "92Mb", "93Mb"]):
    label(x, 565, s, 8.2)
label(83, 599, "Gene", 10.3, ha="left")

track_labels = [(61, 641, "PCA"), (49, 692, "H3K36me3"), (50, 748, "H3K4me3")]
for x, y, s in track_labels:
    label(x, y, s, 9.6)
wt_y = [630, 686, 738, 798, 833, 881, 950]
ko_y = [657, 712, 763, 905, 1015]
for y in wt_y:
    label(100, y, "WT", 9.6)
for y in ko_y:
    label(100, y, "IKDN", 9.6)
ranges_l = [(647, "(-2~2)"), (698, "(0.1-0.8)"), (752, "(0.2-8)"), (793, "4-50"), (833, "(1 - 10)"), (891, "(0.1-1.8)"), (981, "(2 - 100)")]
ranges_r = [(647, "(-2~2)"), (698, "(0.1-0.8)"), (752, "(0.2-8)"), (793, "4-50"), (833, "(0 - 10)"), (891, "(0.1-1.8)"), (981, "(2 - 100)")]
for y, s in ranges_l:
    label(122, y, s, 7, rotation=90, color="#333333")
for y, s in ranges_r:
    label(461, y, s, 7, rotation=90, color="#333333")
label(46, 819, "IKAROS", 9.6, rotation=90)
label(46, 935, "H3K27ac", 9.6, rotation=90)
for y, s in [(795, "ChIP"), (835, "HiChIP"), (894, "ChIP"), (977, "HiChIP")]:
    label(73, y, s, 9.6, rotation=90)
vrule(82, 625, 662)
vrule(81, 673, 718)
vrule(81, 732, 773)
vrule(59, 782, 857)
vrule(81, 782, 806)
vrule(81, 810, 858)
vrule(59, 869, 1031)
vrule(81, 870, 918, color="#666666")
vrule(81, 932, 1031)

for x, y, s in [(0, 13, "A"), (345, 13, "B"), (0, 250, "C"), (1, 569, "D")]:
    label(x, y, s, 21, ha="left", fontweight="bold", color="black")

fig.savefig("out.png", dpi=100)
